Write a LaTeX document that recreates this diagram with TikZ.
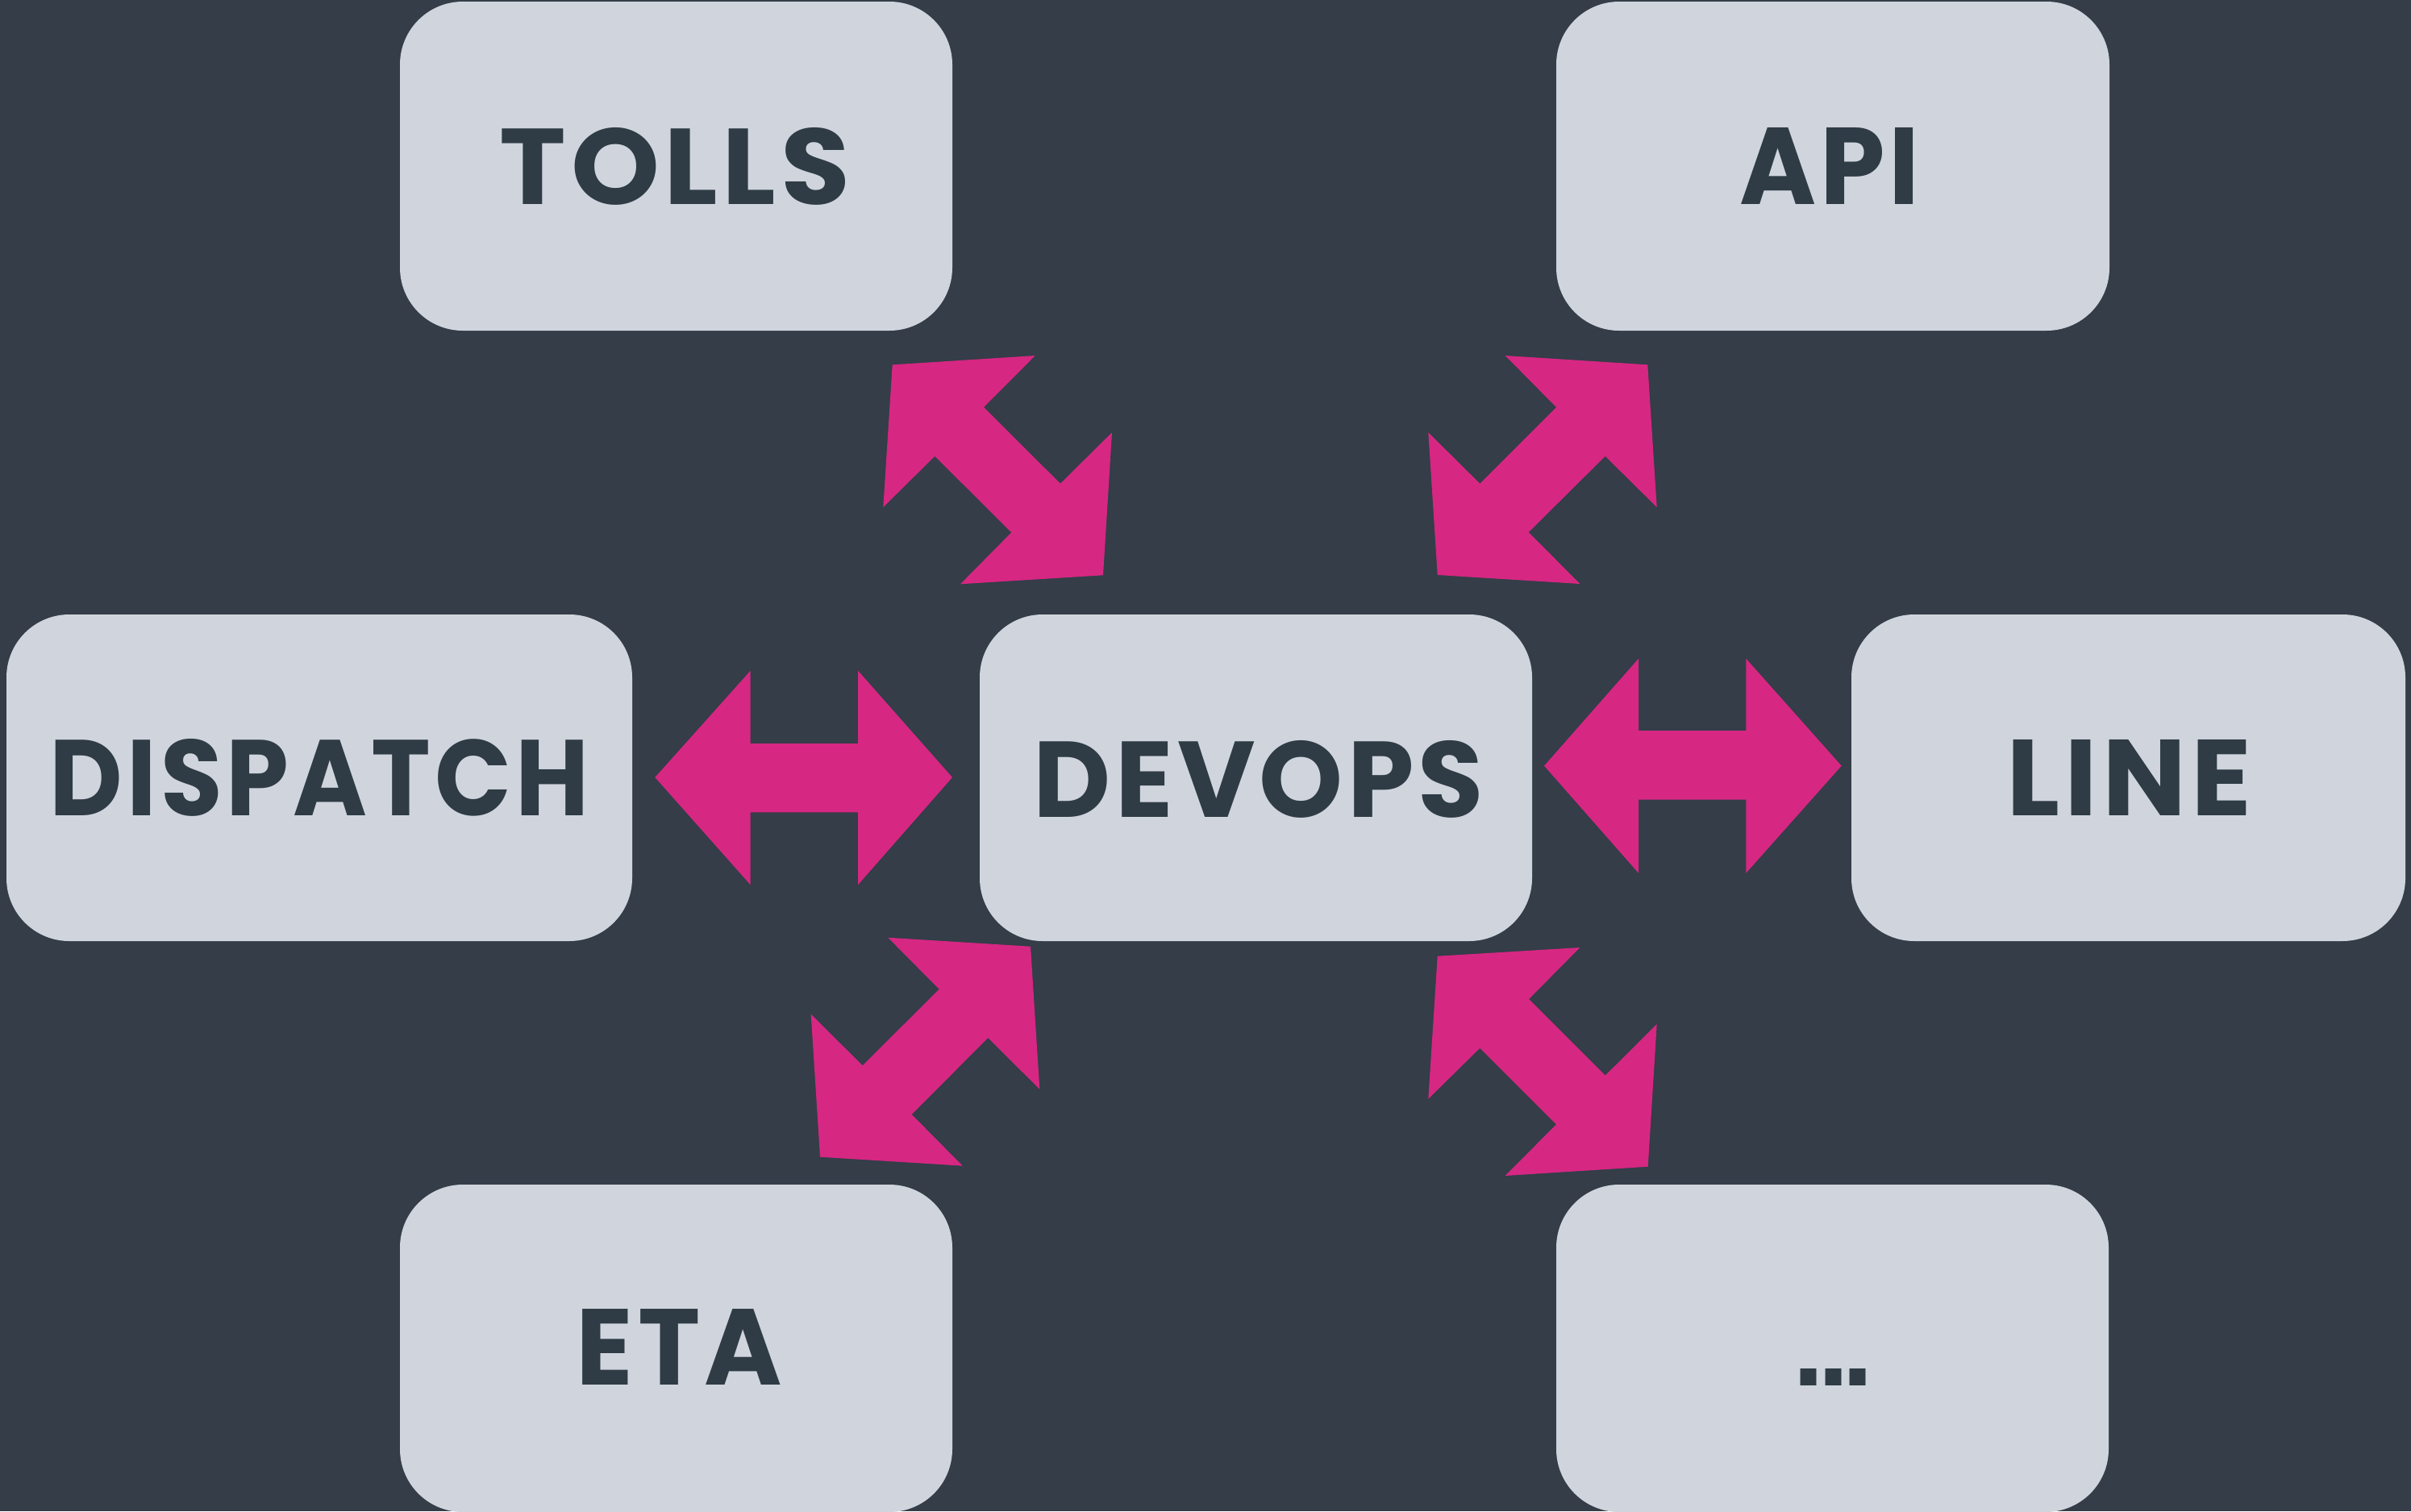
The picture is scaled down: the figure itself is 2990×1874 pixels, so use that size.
\documentclass[tikz,border=0pt]{standalone}
\usepackage{fontspec}
\usepackage{graphicx}
\newfontfamily\labelfont{Poppins}[LetterSpace=4]
\newfontfamily\dotfont{Liberation Sans}[LetterSpace=-6]
\definecolor{slate}{HTML}{343D48}
\definecolor{panel}{HTML}{D0D5DD}
\definecolor{ink}{HTML}{2F3B45}
\definecolor{hotpink}{HTML}{D62783}
% scale a bold label to an exact width and total height (in pt)
\newcommand\fitword[3]{\resizebox*{#1pt}{#2pt}{\labelfont\bfseries #3}}
% scale to a given total height, keeping the glyph proportions
\newcommand\fitdots[2]{\resizebox*{!}{#1pt}{\dotfont\bfseries #2}}
\begin{document}
\begin{tikzpicture}[x=1pt,y=-1pt,
  panelbox/.style={fill=panel, rounded corners=78pt, inner sep=0pt},
  word/.style={inner sep=0pt, text=ink},
  twoway/.style={fill=hotpink}]
% background
\fill[slate] (0,0) rectangle (2990,1874);
\useasboundingbox (0,0) rectangle (2990,1874);

% panels
\node[panelbox, minimum width=685pt, minimum height=408pt] (tolls)    at (838.5,206)   {};
\node[panelbox, minimum width=686pt, minimum height=408pt] (api)      at (2273,206)    {};
\node[panelbox, minimum width=776pt, minimum height=405pt] (dispatch) at (396,964.5)   {};
\node[panelbox, minimum width=685pt, minimum height=405pt] (devops)   at (1557.5,964.5){};
\node[panelbox, minimum width=687pt, minimum height=405pt] (line)     at (2639.5,964.5){};
\node[panelbox, minimum width=685pt, minimum height=406pt] (eta)      at (838.5,1672)  {};
\node[panelbox, minimum width=685pt, minimum height=406pt] (more)     at (2272.5,1672) {};

% labels
\node[word] (tollsT)    at (837,206)     {\fitword{434}{96}{TOLLS}};
\node[word] (apiT)      at (2269,205.5)  {\fitword{224}{95}{API}};
\node[word] (dispatchT) at (396,964)     {\fitword{668}{96}{DISPATCH}};
\node[word] (devopsT)   at (1561,966)    {\fitword{558}{96}{DEVOPS}};
\node[word] (lineT)     at (2640.5,964)  {\fitword{303}{94}{LINE}};
\node[word] (etaT)      at (842.5,1670)  {\fitword{255}{94}{ETA}};
\node[word] (moreT)     at (2273.5,1707.5) {\fitdots{21}{...}};

% two-way arrows
% DISPATCH <-> DEVOPS
\fill[twoway] (812.3,964) -- (930.7,831.7) -- (930.7,922) -- (1064,922) -- (1064,831.7)
  -- (1181,964) -- (1064,1097.3) -- (1064,1007.3) -- (930.7,1007.3) -- (930.7,1097.3) -- cycle;
% DEVOPS <-> LINE
\fill[twoway] (1915,949.7) -- (2032,816.7) -- (2032,906) -- (2165.3,906) -- (2165.3,816.7)
  -- (2283.7,949.7) -- (2165.3,1082.7) -- (2165.3,991.7) -- (2032,991.7) -- (2032,1082.7) -- cycle;
% TOLLS <-> DEVOPS
\fill[twoway] (1106.7,452.3) -- (1283.7,441) -- (1220,505) -- (1315,599.7) -- (1379,536.3)
  -- (1368,713.3) -- (1191,724.3) -- (1254.3,660.3) -- (1159.3,565.7) -- (1095.3,629) -- cycle;
% API <-> DEVOPS
\fill[twoway] (1866.7,441) -- (2043.3,452.3) -- (2054.7,629) -- (1990.7,565.7) -- (1895.7,660)
  -- (1959.3,724) -- (1782.7,713) -- (1771.3,536.3) -- (1835.3,599.7) -- (1930,505) -- cycle;
% ETA <-> DEVOPS
\fill[twoway] (1101.3,1162.7) -- (1278,1173.7) -- (1289.3,1350.7) -- (1225.3,1287) -- (1130.7,1382)
  -- (1193.7,1445.7) -- (1017,1434.7) -- (1005.7,1257.7) -- (1069.7,1321.3) -- (1164.7,1226.7) -- cycle;
% ... <-> DEVOPS
\fill[twoway] (1782.7,1185.7) -- (1959.3,1175) -- (1896,1239) -- (1990.7,1333.7) -- (2054.7,1270)
  -- (2043.7,1446.7) -- (1866.7,1458) -- (1930,1394.3) -- (1835.3,1299.7) -- (1771.3,1362.7) -- cycle;
\end{tikzpicture}
\end{document}
